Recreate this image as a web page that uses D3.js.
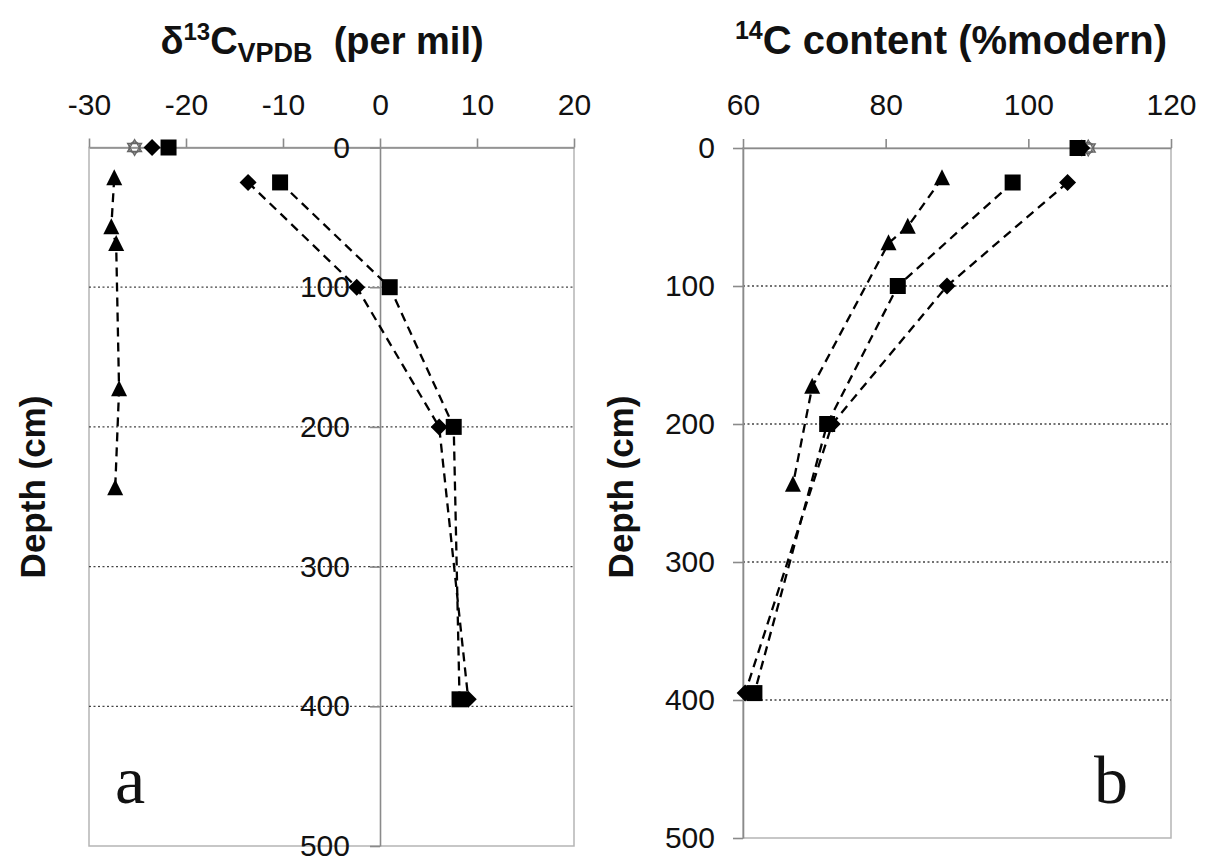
<!DOCTYPE html>
<html>
<head>
<meta charset="utf-8">
<script src="https://cdn.jsdelivr.net/npm/d3@7"></script>
<style>
  html, body { margin: 0; padding: 0; background: #fff; }
  svg { display: block; }
</style>
</head>
<body>
<svg id="chart" width="1208" height="865"></svg>
<script>
// ---------------- data ----------------
const depthTicks = [0, 100, 200, 300, 400, 500];
const gridDepths = [100, 200, 300, 400];
const d13cTicks = [-30, -20, -10, 0, 10, 20];
const c14Ticks = [60, 80, 100, 120];

// sample depths (cm)
const depthProfile = [25, 100, 200, 395];          // diamond & square series
const depthTriangle = [22, 57, 69, 173, 244];      // triangle series

// panel a: delta13C (per mil)
const d13cDiamond = [-13.6, -2.4, 6.1, 9.1];
const d13cSquare = [-10.3, 1.0, 7.6, 8.2];
const d13cTriangle = [-27.4, -27.7, -27.2, -26.9, -27.3];
const d13cSurfaceOpen = -25.3;
const d13cSurfaceDiamond = -23.5;
const d13cSurfaceSquare = -21.8;

// panel b: 14C content (% modern)
const c14Diamond = [105.5, 88.6, 72.5, 60.3];
const c14Square = [97.8, 81.7, 71.8, 61.6];
const c14Triangle = [87.9, 83.1, 80.4, 69.7, 67.0];
const c14SurfaceOpen = 108.4;
const c14SurfaceDiamond = 107.5;
const c14SurfaceSquare = 106.9;

// ---------------- drawing ----------------
const svg = d3.select("#chart");
const SANS = "'Liberation Sans', Arial, sans-serif";
const SERIF = "'Liberation Serif', 'Times New Roman', serif";
const AXIS = "#8a8a8a";
const BORDER = "#b5b5b5";

function markerPath(type) {
  if (type === "square") return "M-8,-8H8V8H-8Z";
  if (type === "diamond") return "M0,-8.5L8.5,0L0,8.5L-8.5,0Z";
  if (type === "triangle") return "M0,-9L8,7L-8,7Z";
  if (type === "openstar") return "M0,-8L7,4L-7,4Z M0,8L7,-4L-7,-4Z";
  return "";
}

function panel(cfg) {
  const x = d3.scaleLinear().domain(cfg.xDomain).range(cfg.xRange);
  const y = d3.scaleLinear().domain([0, 500]).range(cfg.yRange);
  const g = svg.append("g");

  // plot border
  g.append("rect")
    .attr("x", x.range()[0]).attr("y", y(0))
    .attr("width", x.range()[1] - x.range()[0])
    .attr("height", y(500) - y(0))
    .attr("fill", "none").attr("stroke", BORDER).attr("stroke-width", 1.5);

  // dotted gridlines
  g.selectAll(".grid").data(gridDepths).enter().append("line")
    .attr("x1", x.range()[0]).attr("x2", x.range()[1])
    .attr("y1", d => y(d)).attr("y2", d => y(d))
    .attr("stroke", "#444").attr("stroke-width", 1.3)
    .attr("stroke-dasharray", "2,2.5");

  // top x axis
  const xAxis = d3.axisTop(x).tickValues(cfg.xTicks).tickSize(9).tickSizeOuter(0).tickPadding(24)
    .tickFormat(d => String(d));
  const gx = g.append("g").attr("transform", `translate(0,${y(0)})`).call(xAxis);
  gx.select(".domain").attr("stroke", AXIS).attr("stroke-width", 1.6);
  gx.selectAll(".tick line").attr("stroke", AXIS).attr("stroke-width", 1.6);
  gx.selectAll("text").attr("font-family", SANS).attr("font-size", 30).attr("fill", "#111");

  // y axis (depth)
  const yAxis = d3.axisLeft(y).tickValues(depthTicks).tickSize(10).tickSizeOuter(0).tickPadding(cfg.yPad);
  const gy = g.append("g").attr("transform", `translate(${x(cfg.yAxisAt)},0)`).call(yAxis);
  gy.select(".domain").attr("stroke", AXIS).attr("stroke-width", 1.6);
  gy.selectAll(".tick line").attr("stroke", AXIS).attr("stroke-width", 1.6);
  gy.selectAll("text").attr("font-family", SANS).attr("font-size", 30).attr("fill", "#111");

  // dashed profile lines
  const line = d3.line().x(d => x(d[0])).y(d => y(d[1]));
  cfg.series.forEach(s => {
    const pts = s.values.map((v, i) => [v, s.depths[i]]);
    g.append("path").datum(pts).attr("d", line)
      .attr("fill", "none").attr("stroke", "#000").attr("stroke-width", 2.3)
      .attr("stroke-dasharray", "9,6");
  });
  // markers
  cfg.series.forEach(s => {
    g.selectAll(null).data(s.values.map((v, i) => [v, s.depths[i]])).enter().append("path")
      .attr("d", markerPath(s.type))
      .attr("transform", d => `translate(${x(d[0])},${y(d[1])})`)
      .attr("fill", "#000");
  });
  // surface (depth 0) samples
  cfg.surface.forEach(s => {
    const p = g.append("path").attr("d", markerPath(s.type))
      .attr("transform", `translate(${x(s.value)},${y(0)})`);
    if (s.type === "openstar") {
      p.attr("fill", "#fff").attr("stroke", "#666").attr("stroke-width", 1.3);
      g.append("circle").attr("cx", x(s.value)).attr("cy", y(0)).attr("r", 5.5)
        .attr("fill", "none").attr("stroke", "#666").attr("stroke-width", 1.3);
    } else {
      p.attr("fill", "#000");
    }
  });

  // titles
  const t = g.append("text").attr("x", cfg.titleX).attr("y", 54).attr("text-anchor", "middle")
    .attr("font-family", SANS).attr("font-weight", "bold").attr("font-size", cfg.titleSize).attr("fill", "#111");
  cfg.title(t);

  g.append("text")
    .attr("transform", `translate(${cfg.depthLabelX},487) rotate(-90)`)
    .attr("text-anchor", "middle")
    .attr("font-family", SANS).attr("font-weight", "bold").attr("font-size", 35).attr("fill", "#111")
    .text("Depth (cm)");

  g.append("text").attr("x", cfg.letterX).attr("y", 803).attr("text-anchor", "middle")
    .attr("font-family", SERIF).attr("font-size", 68).attr("fill", "#111")
    .text(cfg.letter);
}

panel({
  xDomain: [-30, 20], xRange: [89, 574], yRange: [147.5, 846],
  xTicks: d13cTicks, yAxisAt: 0, yPad: 20,
  series: [
    { type: "triangle", values: d13cTriangle, depths: depthTriangle },
    { type: "diamond", values: d13cDiamond, depths: depthProfile },
    { type: "square", values: d13cSquare, depths: depthProfile }
  ],
  surface: [
    { type: "openstar", value: d13cSurfaceOpen },
    { type: "diamond", value: d13cSurfaceDiamond },
    { type: "square", value: d13cSurfaceSquare }
  ],
  titleX: 322, titleSize: 38,
  title: t => {
    t.append("tspan").text("δ");
    t.append("tspan").attr("font-size", 24).attr("dy", -14).text("13");
    t.append("tspan").attr("dy", 14).text("C");
    t.append("tspan").attr("font-size", 27).attr("dy", 8).text("VPDB");
    t.append("tspan").attr("dy", -8).text("\u00a0 (per mil)");
  },
  depthLabelX: 45, letterX: 130, letter: "a"
});

panel({
  xDomain: [60, 120], xRange: [743, 1171], yRange: [148, 838],
  xTicks: c14Ticks, yAxisAt: 60, yPad: 18,
  series: [
    { type: "triangle", values: c14Triangle, depths: depthTriangle },
    { type: "diamond", values: c14Diamond, depths: depthProfile },
    { type: "square", values: c14Square, depths: depthProfile }
  ],
  surface: [
    { type: "openstar", value: c14SurfaceOpen },
    { type: "square", value: c14SurfaceSquare },
    { type: "diamond", value: c14SurfaceDiamond }
  ],
  titleX: 951, titleSize: 40,
  title: t => {
    t.append("tspan").attr("font-size", 25).attr("dy", -15).text("14");
    t.append("tspan").attr("dy", 15).text("C content (%modern)");
  },
  depthLabelX: 633, letterX: 1111, letter: "b"
});
</script>
</body>
</html>
